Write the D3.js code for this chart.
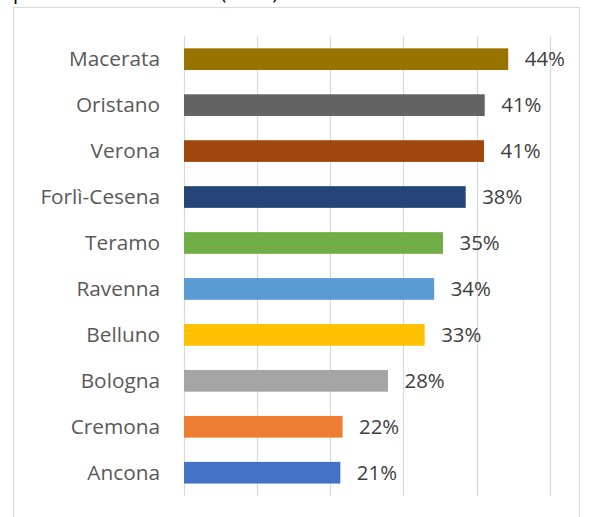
<!DOCTYPE html>
<html>
<head>
<meta charset="utf-8">
<script src="https://cdn.jsdelivr.net/npm/d3@7"></script>
<style>
  html, body { margin: 0; padding: 0; background: #fff; }
  svg { display: block; }
</style>
</head>
<body>
<script>
// Data
const categories = ["Macerata", "Oristano", "Verona", "Forlì-Cesena", "Teramo", "Ravenna", "Belluno", "Bologna", "Cremona", "Ancona"];
const values = [0.443, 0.411, 0.410, 0.385, 0.354, 0.342, 0.329, 0.279, 0.217, 0.214];
const valueLabels = ["44%", "41%", "41%", "38%", "35%", "34%", "33%", "28%", "22%", "21%"];
const colors = ["#997300", "#636363", "#9e480e", "#264478", "#70ad47", "#5b9bd5", "#ffc000", "#a5a5a5", "#ed7d31", "#4472c4"];
const xTicks = [0, 0.1, 0.2, 0.3, 0.4, 0.5];
const titleText = "percentuale sul totale (2019)";

const W = 589, H = 517;
const svg = d3.select("body").append("svg").attr("width", W).attr("height", H);

const font = "'Open Sans', sans-serif";

// Cropped title at very top (only its lowest pixels show, as in the reference)
svg.append("text")
  .attr("x", 13).attr("y", -1)
  .attr("font-family", font).attr("font-size", 20)
  .attr("fill", "#000")
  .text(titleText);

// Chart frame
svg.append("rect")
  .attr("x", 13.5).attr("y", 7.5)
  .attr("width", 566).attr("height", 540)
  .attr("fill", "#fff").attr("stroke", "#d9d9d9").attr("stroke-width", 1);

const x = d3.scaleLinear().domain([0, 0.5]).range([183.5, 550]);
const y = d3.scaleBand().domain(categories).range([36.2, 495.7]).paddingInner(0.528).paddingOuter(0.264);

// Gridlines
svg.append("g").selectAll("line").data(xTicks).join("line")
  .attr("x1", d => Math.round(x(d)) + 0.5).attr("x2", d => Math.round(x(d)) + 0.5)
  .attr("y1", y.range()[0]).attr("y2", y.range()[1])
  .attr("stroke", "#d9d9d9").attr("stroke-width", 1.2);

// Bars
svg.append("g").selectAll("rect").data(categories).join("rect")
  .attr("x", x(0) + 0.5)
  .attr("y", d => y(d))
  .attr("width", (d, i) => x(values[i]) - x(0) - 0.5)
  .attr("height", y.bandwidth())
  .attr("fill", (d, i) => colors[i]);

// Category labels
svg.append("g").selectAll("text").data(categories).join("text")
  .attr("x", 160)
  .attr("y", d => y(d) + y.bandwidth() / 2 + 7.3)
  .attr("text-anchor", "end")
  .attr("font-family", font).attr("font-size", 20.8)
  .attr("fill", "#595959")
  .text(d => d);

// Value labels
svg.append("g").selectAll("text").data(categories).join("text")
  .attr("x", (d, i) => x(values[i]) + 16.5)
  .attr("y", d => y(d) + y.bandwidth() / 2 + 7.3)
  .attr("font-family", font).attr("font-size", 20.4)
  .attr("fill", "#404040")
  .text((d, i) => valueLabels[i]);
</script>
</body>
</html>
